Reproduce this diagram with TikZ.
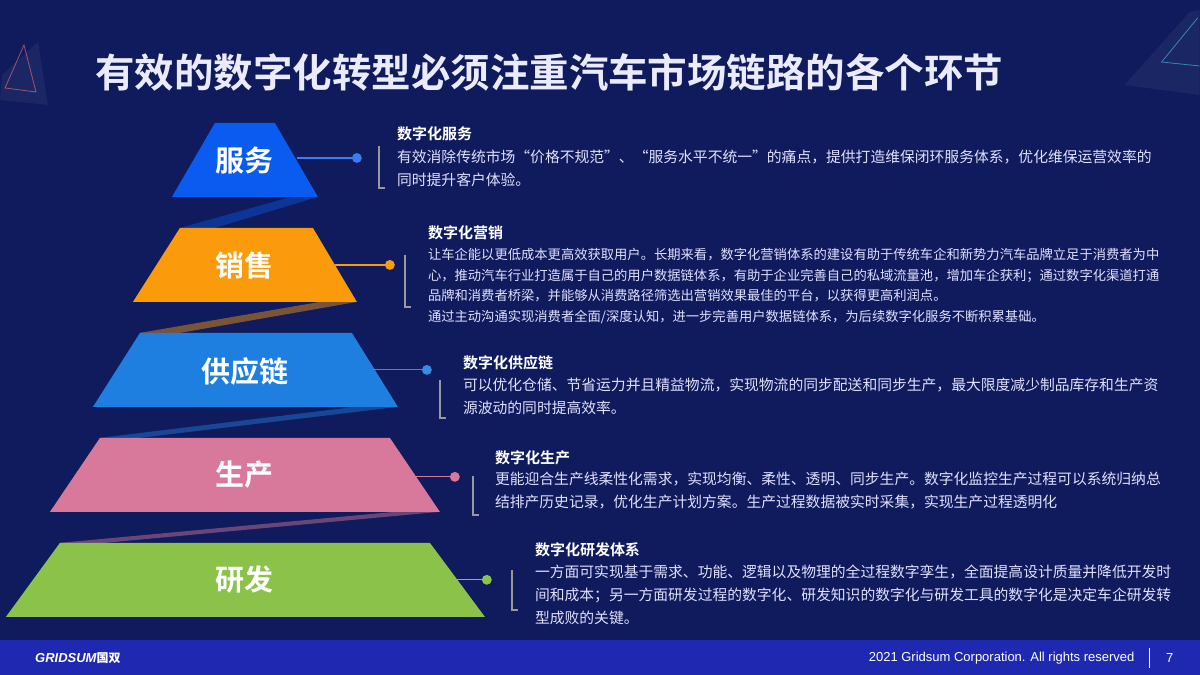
\documentclass[tikz,border=0pt]{standalone}
\usepackage{fontspec}
\setmainfont{Noto Sans CJK SC}
\newfontfamily\cjkb{Noto Sans CJK SC Bold}
\newfontfamily\latin{Liberation Sans}
\begin{document}
\begin{tikzpicture}[x=1pt,y=-1pt,
  lbl/.style={font=\cjkb\fontsize{29}{30}\selectfont,text=white},
  ttl/.style={anchor=west,font=\cjkb\fontsize{15}{16}\selectfont,text=white,inner sep=0},
  body/.style={anchor=north west,font=\fontsize{14.8}{23}\selectfont,text=white!88!blue,inner sep=0,align=left},
  bodys/.style={anchor=north west,font=\fontsize{13.3}{20.7}\selectfont,text=white!88!blue,inner sep=0,align=left},
  brk/.style={draw=gray!80,line width=1.5pt},
  dotl/.style={line width=1.2pt}]
\definecolor{bg}{HTML}{0F1B5C}
\definecolor{foot}{HTML}{1E28B0}
\definecolor{c1}{HTML}{0A5BF0}
\definecolor{c2}{HTML}{FB9A0A}
\definecolor{c3}{HTML}{1E7FE0}
\definecolor{c4}{HTML}{D8789A}
\definecolor{c5}{HTML}{8BC34A}
\fill[bg] (0,0) rectangle (1200,675);
\fill[foot] (0,640) rectangle (1200,675);
% decorative triangles
\fill[white,opacity=0.05] (38,42) -- (48,105) -- (0,100) -- (2,75) -- cycle;
\draw[red!55!white,opacity=0.6,line width=0.8pt] (24,45) -- (5,88) -- (36,92) -- cycle;
\fill[white,opacity=0.05] (1190,12) -- (1200,10) -- (1200,95) -- (1125,85) -- cycle;
\draw[cyan!70!white,opacity=0.6,line width=0.8pt] (1198,18) -- (1162,62) -- (1200,66);
\node[anchor=west,font=\cjkb\fontsize{39.5}{42}\selectfont,text=white!92!blue,inner sep=0] (title) at (95,72) {有效的数字化转型必须注重汽车市场链路的各个环节};
% ribbons
\fill[c1!40!bg] (291,197) -- (318,197) -- (215,228) -- (180,228) -- cycle;
\fill[c2!45!bg] (320,302) -- (357,302) -- (180,333) -- (140,333) -- cycle;
\fill[c3!45!bg] (355,407) -- (398,407) -- (140,438) -- (100,438) -- cycle;
\fill[c4!45!bg] (395,512) -- (440,512) -- (105,543) -- (60,543) -- cycle;
% trapezoids
\fill[c1] (215,123) -- (275,123) -- (318,197) -- (172,197) -- cycle;
\fill[c2] (180,228) -- (313,228) -- (357,302) -- (133,302) -- cycle;
\fill[c3] (140,333) -- (352,333) -- (398,407) -- (93,407) -- cycle;
\fill[c4] (100,438) -- (390,438) -- (440,512) -- (50,512) -- cycle;
\fill[c5] (60,543) -- (430,543) -- (485,617) -- (6,617) -- cycle;
\node[lbl] (t1) at (245,161) {服务};
\node[lbl] (t2) at (245,266) {销售};
\node[lbl] (t3) at (245,372) {供应链};
\node[lbl] (t4) at (245,475) {生产};
\node[lbl] (t5) at (245,580) {研发};
% dots
\coordinate (a1) at (297,158); \coordinate (a2) at (335,265); \coordinate (a3) at (372,370); \coordinate (a4) at (408,477); \coordinate (a5) at (447,580);
\node[circle,fill=c1!80!white,inner sep=3.5pt] (d1) at (357,158) {};
\node[circle,fill=c2,inner sep=3.5pt] (d2) at (390,265) {};
\node[circle,fill=c3!90!white,inner sep=3.5pt] (d3) at (427,370) {};
\node[circle,fill=c4,inner sep=3.5pt] (d4) at (455,477) {};
\node[circle,fill=c5,inner sep=3.5pt] (d5) at (487,580) {};
\draw[dotl,c1!80!white] (a1) -- (d1);
\draw[dotl,c2] (a2) -- (d2);
\draw[dotl,c3!90!white] (a3) -- (d3);
\draw[dotl,c4] (a4) -- (d4);
\draw[dotl,c5] (a5) -- (d5);
% brackets
\draw[brk] (379,146) -- (379,188) -- (385,188);
\draw[brk] (405,255) -- (405,307) -- (411,307);
\draw[brk] (440,380) -- (440,418) -- (446,418);
\draw[brk] (473,476) -- (473,515) -- (479,515);
\draw[brk] (512,570) -- (512,610) -- (518,610);
% texts
\node[ttl] (h1) at (397,134) {数字化服务};
\node[body] (b1) at (397,150) {有效消除传统市场“价格不规范”、“服务水平不统一”的痛点，提供打造维保闭环服务体系，优化维保运营效率的\\同时提升客户体验。};
\node[ttl] (h2) at (428,233) {数字化营销};
\node[bodys] (b2) at (428,248) {让车企能以更低成本更高效获取用户。长期来看，数字化营销体系的建设有助于传统车企和新势力汽车品牌立足于消费者为中\\心，推动汽车行业打造属于自己的用户数据链体系，有助于企业完善自己的私域流量池，增加车企获利；通过数字化渠道打通\\品牌和消费者桥梁，并能够从消费路径筛选出营销效果最佳的平台，以获得更高利润点。\\通过主动沟通实现消费者全面/深度认知，进一步完善用户数据链体系，为后续数字化服务不断积累基础。};
\node[ttl] (h3) at (463,363) {数字化供应链};
\node[body] (b3) at (463,378) {可以优化仓储、节省运力并且精益物流，实现物流的同步配送和同步生产，最大限度减少制品库存和生产资\\源波动的同时提高效率。};
\node[ttl] (h4) at (495,458) {数字化生产};
\node[body] (b4) at (495,472) {更能迎合生产线柔性化需求，实现均衡、柔性、透明、同步生产。数字化监控生产过程可以系统归纳总\\结排产历史记录，优化生产计划方案。生产过程数据被实时采集，实现生产过程透明化};
\node[ttl] (h5) at (535,550) {数字化研发体系};
\node[body] (b5) at (535,565) {一方面可实现基于需求、功能、逻辑以及物理的全过程数字孪生，全面提高设计质量并降低开发时\\间和成本；另一方面研发过程的数字化、研发知识的数字化与研发工具的数字化是决定车企研发转\\型成败的关键。};
% footer
\node[anchor=west,font=\latin\bfseries\itshape\fontsize{13}{14}\selectfont,text=white,inner sep=0] (logo) at (35,658) {GRIDSUM{\cjkb\upshape\fontsize{12}{14}\selectfont 国双}};
\node[anchor=east,font=\latin\fontsize{13}{14}\selectfont,text=white,inner sep=0] (copy) at (1135,658) {2021 Gridsum Corporation. All rights reserved};
\draw[white,line width=1.2pt] (1150,648) -- (1150,668);
\node[font=\latin\fontsize{13}{14}\selectfont,text=white,inner sep=0] (pg) at (1170,658) {7};
\end{tikzpicture}
\end{document}
